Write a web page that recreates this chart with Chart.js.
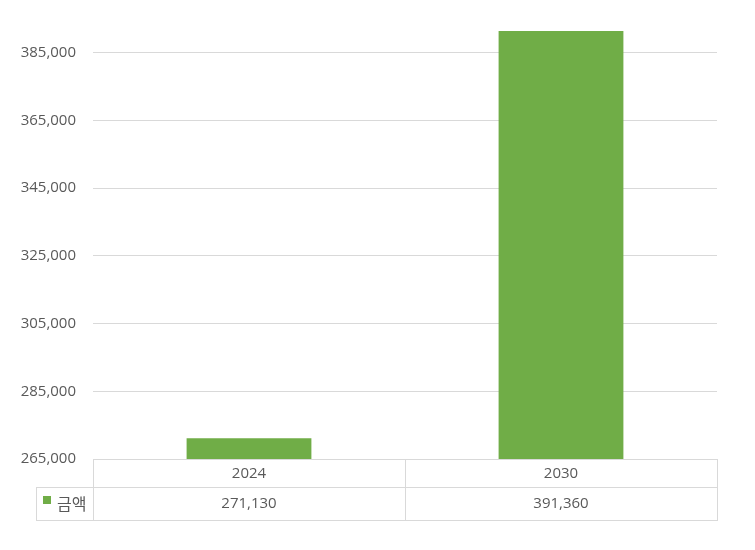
<!DOCTYPE html>
<html>
<head>
<meta charset="utf-8">
<script src="https://cdn.jsdelivr.net/npm/chart.js@4/dist/chart.umd.min.js"></script>
<style>
html,body{margin:0;padding:0;background:#fff;}
#wrap{width:755px;height:550px;position:relative;}
</style>
</head>
<body>
<div id="wrap"><canvas id="c" width="755" height="550"></canvas></div>
<script>
const categories = ['2024', '2030'];
const seriesName = '금액';
const amounts = [271130, 391360];
const yTicks = [265000, 285000, 305000, 325000, 345000, 365000, 385000];

const GREEN = '#70ad47';
const TEXT = '#595959';
const LINE = '#d9d9d9';
const FONT = '"Open Sans", "Noto Sans CJK KR", sans-serif';

const fmt = v => v.toLocaleString('en-US');

const tablePlugin = {
  id: 'dataTable',
  afterDraw(chart) {
    const ctx = chart.ctx;
    const area = chart.chartArea;
    const x = chart.scales.x;
    const n = categories.length;
    const left = area.left, right = area.right;
    const top = Math.round(area.bottom);
    const row1 = top + 28, row2 = row1 + 33;
    const legendLeft = 36;
    const colW = (right - left) / n;
    ctx.save();
    ctx.strokeStyle = LINE;
    ctx.lineWidth = 1;
    ctx.beginPath();
    const h = (x1, x2, y) => { ctx.moveTo(x1, y + 0.5); ctx.lineTo(x2, y + 0.5); };
    const v = (xx, y1, y2) => { ctx.moveTo(Math.round(xx) + 0.5, y1); ctx.lineTo(Math.round(xx) + 0.5, y2); };
    h(left, right + 1, top);
    h(legendLeft, right + 1, row1);
    h(legendLeft, right + 1, row2);
    v(legendLeft, row1, row2 + 1);
    for (let i = 0; i <= n; i++) v(left + i * colW, top, row2 + 1);
    ctx.stroke();

    ctx.fillStyle = TEXT;
    ctx.font = '15px ' + FONT;
    ctx.textAlign = 'center';
    ctx.textBaseline = 'middle';
    for (let i = 0; i < n; i++) {
      const cx = x.getPixelForValue(i);
      ctx.fillText(categories[i], cx, top + 14.5);
      ctx.fillText(fmt(amounts[i]), cx, row1 + 16.5);
    }
    ctx.fillStyle = GREEN;
    ctx.fillRect(43, row1 + 9, 8, 8);
    ctx.fillStyle = TEXT;
    ctx.textAlign = 'left';
    ctx.font = '16px "Noto Sans CJK KR", sans-serif';
    ctx.fillText(seriesName, 57, row1 + 17);
    ctx.restore();
  }
};

new Chart(document.getElementById('c'), {
  type: 'bar',
  data: {
    labels: categories,
    datasets: [{
      label: seriesName,
      data: amounts,
      backgroundColor: GREEN,
      borderWidth: 0,
      barPercentage: 0.4,
      categoryPercentage: 1.0
    }]
  },
  options: {
    responsive: false,
    animation: false,
    devicePixelRatio: 1,
    layout: { padding: { top: 29, right: 38, bottom: 91, left: 0 } },
    plugins: { legend: { display: false }, tooltip: { enabled: false } },
    scales: {
      x: { display: false },
      y: {
        min: 265000,
        max: 391940,
        afterBuildTicks(scale) { scale.ticks = yTicks.map(v => ({ value: v })); },
        afterFit(scale) { scale.width = 93; },
        border: { display: false },
        grid: { color: LINE, lineWidth: 1, drawTicks: false },
        ticks: {
          padding: 17,
          color: TEXT,
          font: { family: FONT, size: 15 },
          callback: v => fmt(v)
        }
      }
    }
  },
  plugins: [tablePlugin]
});
</script>
</body>
</html>
